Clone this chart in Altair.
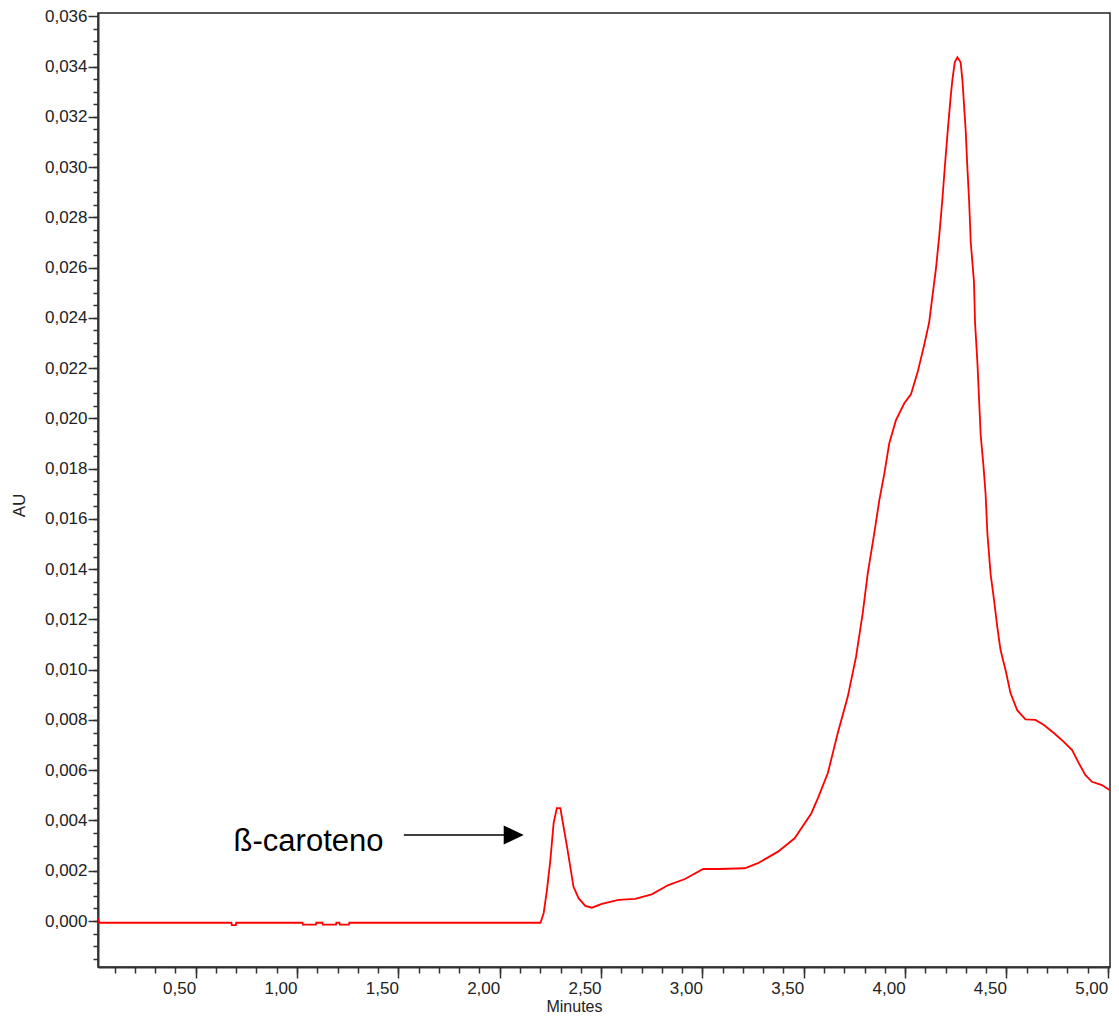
import altair as alt
import pandas as pd

# Chromatogram trace (minutes, AU)
minutes = [
    0.018, 0.024, 0.676, 0.678, 0.698, 0.700, 1.027, 1.029, 1.093, 1.095,
    1.125, 1.127, 1.192, 1.194, 1.209, 1.211, 1.256, 1.258, 2.201,
    2.217, 2.233, 2.250, 2.266, 2.282, 2.299, 2.315, 2.332, 2.348, 2.364,
    2.389, 2.422, 2.455, 2.504, 2.586, 2.668, 2.750, 2.832, 2.914, 3.004,
    3.078, 3.209, 3.274, 3.373, 3.455, 3.537, 3.570, 3.619, 3.668, 3.717,
    3.758, 3.791, 3.816, 3.848, 3.873, 3.898, 3.922, 3.955, 3.996, 4.029,
    4.062, 4.094, 4.119, 4.135, 4.152, 4.168, 4.184, 4.197, 4.211,
    4.225, 4.233, 4.245, 4.258, 4.274, 4.283, 4.299, 4.307, 4.316, 4.324,
    4.340, 4.345, 4.357, 4.365, 4.373, 4.386, 4.397, 4.406, 4.422, 4.439,
    4.455, 4.471, 4.496, 4.520, 4.553, 4.594, 4.643, 4.685, 4.734, 4.783,
    4.824, 4.857, 4.889, 4.922, 4.971, 5.011,
]
au = [
    0.00010, -0.00007, -0.00007, -0.00016, -0.00016, -0.00007, -0.00007, -0.00014, -0.00014, -0.00007,
    -0.00007, -0.00014, -0.00014, -0.00007, -0.00007, -0.00014, -0.00014, -0.00007, -0.00007,
    0.00032, 0.00123, 0.00243, 0.00390, 0.00449, 0.00449, 0.00375, 0.00296, 0.00216, 0.00136,
    0.00091, 0.00060, 0.00053, 0.00068, 0.00084, 0.00088, 0.00106, 0.00143, 0.00167, 0.00207,
    0.00207, 0.00210, 0.00230, 0.00276, 0.00329, 0.00428, 0.00489, 0.00589, 0.00748, 0.00892,
    0.01051, 0.01225, 0.01384, 0.01543, 0.01675, 0.01782, 0.01901, 0.01993, 0.02060, 0.02096,
    0.02184, 0.02291, 0.02383, 0.02486, 0.02594, 0.02721, 0.02872, 0.03010, 0.03150,
    0.03280, 0.03345, 0.03417, 0.03437, 0.03417, 0.03345, 0.03146, 0.03003, 0.02864, 0.02701,
    0.02542, 0.02383, 0.02220, 0.02076, 0.01933, 0.01818, 0.01702, 0.01543, 0.01380, 0.01277,
    0.01169, 0.01078, 0.00998, 0.00907, 0.00839, 0.00802, 0.00800, 0.00780, 0.00748, 0.00713,
    0.00680, 0.00628, 0.00581, 0.00554, 0.00541, 0.00520,
]

# Axis ticks
x_major = [0.5, 1.0, 1.5, 2.0, 2.5, 3.0, 3.5, 4.0, 4.5, 5.0]
x_minor = [round(0.1 * i, 1) for i in range(1, 51)]
y_major = [round(0.002 * i, 3) for i in range(0, 19)]
y_minor = [round(-0.0015 + 0.0005 * i, 4) for i in range(0, 75)]

x_domain = [0.018, 5.011]
y_domain = [-0.00183, 0.03613]

# Annotation
label_text = ["ß-caroteno"]
label_x = [0.687]
label_y = [0.00278]
arrow_x = [1.527]
arrow_x2 = [2.05]
arrow_y = [0.00342]
head_x = [2.069]

df = pd.DataFrame({"t": minutes, "v": au})

xs = alt.Scale(domain=x_domain, nice=False, zero=False)
ys = alt.Scale(domain=y_domain, nice=False, zero=False)

x_lab = "replace(format(datum.value, '.2f'), '.', ',')"
y_lab = "replace(format(datum.value, '.3f'), '.', ',')"

trace = alt.Chart(df).mark_line(color="#ff0000", strokeWidth=1.8, clip=True).encode(
    x=alt.X("t:Q", scale=xs, axis=alt.Axis(
        orient="bottom", values=x_major, tickSize=11, labelAlign="right",
        labelBaseline="top", labelPadding=2, labelExpr=x_lab, title="Minutes",
        titleX=476, titleY=44, titleBaseline="alphabetic", titleAlign="center",
        titleFontSize=16)),
    y=alt.Y("v:Q", scale=ys, axis=alt.Axis(
        orient="left", values=y_major, tickSize=10, labelPadding=1,
        labelExpr=y_lab, title="AU", titleX=-73.5, titleY=492,
        titleBaseline="alphabetic", titleAlign="center")),
)

minor = alt.Chart(df).mark_line(opacity=0).encode(
    x=alt.X("t:Q", scale=xs, axis=alt.Axis(
        orient="bottom", values=x_minor, tickSize=6, labels=False,
        domain=False, title="")),
    y=alt.Y("v:Q", scale=ys, axis=alt.Axis(
        orient="left", values=y_minor, tickSize=5, labels=False,
        domain=False, title="")),
)

ann_df = pd.DataFrame({"lx": label_x, "ly": label_y, "txt": label_text})
text = alt.Chart(ann_df).mark_text(
    align="left", baseline="alphabetic", fontSize=31,
    font="Liberation Sans", color="#000000").encode(
    x=alt.X("lx:Q", scale=xs, axis=None),
    y=alt.Y("ly:Q", scale=ys, axis=None),
    text="txt:N",
)

arr_df = pd.DataFrame({"ax": arrow_x, "ax2": arrow_x2, "ay": arrow_y, "hx": head_x})
arrow_line = alt.Chart(arr_df).mark_rule(color="#000000", strokeWidth=1.6).encode(
    x=alt.X("ax:Q", scale=xs, axis=None),
    x2="ax2:Q",
    y=alt.Y("ay:Q", scale=ys, axis=None),
)
arrow_head = alt.Chart(arr_df).mark_point(
    shape="M-1,-0.95L1,0L-1,0.95Z", size=400, filled=True,
    color="#000000", opacity=1).encode(
    x=alt.X("hx:Q", scale=xs, axis=None),
    y=alt.Y("ay:Q", scale=ys, axis=None),
)

chart = alt.layer(trace, minor, text, arrow_line, arrow_head).resolve_axis(
    x="independent", y="independent"
).properties(
    width=1012, height=954,
    autosize=alt.AutoSizeParams(type="none"),
    padding={"left": 90, "top": 5, "right": 1, "bottom": 48},
    background="white",
).configure_view(
    stroke="#222222", strokeWidth=1.5
).configure_axis(
    grid=False, domainColor="#333333", domainWidth=2,
    tickColor="#333333", tickWidth=1.5,
    labelFont="Liberation Sans", labelFontSize=17, labelColor="#222222",
    titleFont="Liberation Sans", titleFontSize=17, titleColor="#222222",
    titleFontWeight="normal",
)

chart.save("out.html", embed_options={"renderer": "svg", "actions": False})
